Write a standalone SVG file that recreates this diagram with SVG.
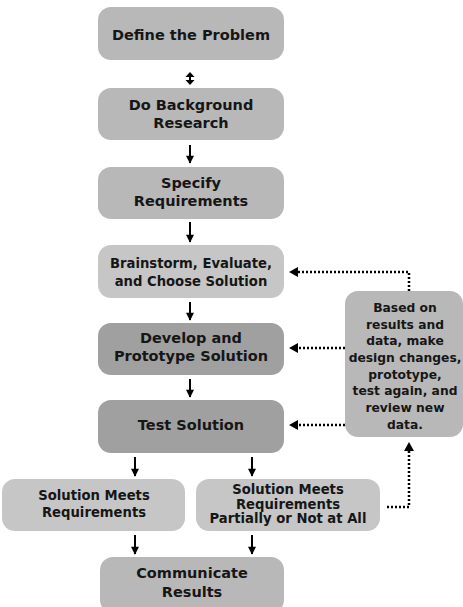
<svg xmlns="http://www.w3.org/2000/svg" width="463" height="607" viewBox="0 0 463 607">
<defs>
<style>
.box{stroke:none}
.c1{fill:#b8b8b8}
.c2{fill:#c6c6c6}
.c3{fill:#a0a0a0}
.t{font-family:"DejaVu Sans",Verdana,sans-serif;font-weight:bold;fill:#161616;text-anchor:middle;dominant-baseline:central}
.big{font-size:14.5px}
.sm{font-size:13.2px}
.xs{font-size:12.3px}
.solid{stroke:#000;stroke-width:2;fill:none;marker-end:url(#ah)}
.dot{stroke:#000;stroke-width:2.5;stroke-dasharray:2 2;fill:none}
</style>
<marker id="ah" viewBox="0 0 10 10" refX="9" refY="5" markerWidth="4.5" markerHeight="4" markerUnits="strokeWidth" orient="auto-start-reverse">
<path d="M0,0 L10,5 L0,10 z" fill="#000"/>
</marker>
</defs>
<rect width="463" height="607" fill="#fff"/>

<g id="connectors">
<path d="M190,75 L190,82" stroke="#000" stroke-width="2"/>
<path d="M185.5,77 L190,72 L194.5,77 z" fill="#000"/>
<path d="M185.5,80 L190,85 L194.5,80 z" fill="#000"/>
<path class="solid" d="M190,145 L190,163"/>
<path class="solid" d="M190,222 L190,242"/>
<path class="solid" d="M190,302 L190,320"/>
<path class="solid" d="M190,379 L190,397"/>
<path class="solid" d="M135,457 L135,476"/>
<path class="solid" d="M252,457 L252,476"/>
<path class="solid" d="M135,535 L135,554"/>
<path class="solid" d="M252,535 L252,554"/>
<path class="dot" d="M409,291 L409,272 L297,272"/>
<path d="M298,267 L289,272 L298,277 z" fill="#000"/>
<path class="dot" d="M345,348 L297,348"/>
<path d="M298,343 L289,348 L298,353 z" fill="#000"/>
<path class="dot" d="M345,425 L297,425"/>
<path d="M298,420 L289,425 L298,430 z" fill="#000"/>
<path class="dot" d="M387,507 L409,507 L409,450"/>
<path d="M404,451 L409,442 L414,451 z" fill="#000"/>
</g>

<g id="n1"><rect class="box c1" x="98" y="7" width="186" height="53" rx="13"/><text class="t big" x="191" y="35">Define the Problem</text></g>
<g id="n2"><rect class="box c1" x="98" y="88" width="186" height="52" rx="13"/><text class="t big" x="191" y="105">Do Background</text><text class="t big" x="191" y="123">Research</text></g>
<g id="n3"><rect class="box c1" x="98" y="167" width="186" height="52" rx="13"/><text class="t big" x="191" y="183">Specify</text><text class="t big" x="191" y="201">Requirements</text></g>
<g id="n4"><rect class="box c2" x="98" y="245" width="186" height="53" rx="13"/><text class="t sm" x="191" y="263">Brainstorm, Evaluate,</text><text class="t sm" x="191" y="281">and Choose Solution</text></g>
<g id="n5"><rect class="box c3" x="98" y="323" width="186" height="52" rx="13"/><text class="t big" x="191" y="338">Develop and</text><text class="t big" x="191" y="356">Prototype Solution</text></g>
<g id="n6"><rect class="box c3" x="98" y="400" width="186" height="53" rx="13"/><text class="t big" x="191" y="425">Test Solution</text></g>
<g id="n7"><rect class="box c2" x="2" y="479" width="183" height="52" rx="13"/><text class="t sm" x="94" y="495">Solution Meets</text><text class="t sm" x="94" y="512">Requirements</text></g>
<g id="n8"><rect class="box c2" x="196" y="479" width="184" height="52" rx="13"/><text class="t sm" x="288" y="489">Solution Meets</text><text class="t sm" x="288" y="504">Requirements</text><text class="t sm" x="288" y="518">Partially or Not at All</text></g>
<g id="n9"><rect class="box c1" x="100" y="557" width="184" height="56" rx="13"/><text class="t big" x="192" y="573">Communicate</text><text class="t big" x="192" y="592">Results</text></g>
<g id="n10"><rect class="box c1" x="345" y="291" width="118" height="146" rx="13"/>
<text class="t xs" x="405" y="308">Based on</text>
<text class="t xs" x="405" y="325">results and</text>
<text class="t xs" x="405" y="341">data, make</text>
<text class="t xs" x="405" y="358">design changes,</text>
<text class="t xs" x="405" y="375">prototype,</text>
<text class="t xs" x="405" y="391">test again, and</text>
<text class="t xs" x="405" y="408">review new</text>
<text class="t xs" x="405" y="425">data.</text>
</g>
</svg>
